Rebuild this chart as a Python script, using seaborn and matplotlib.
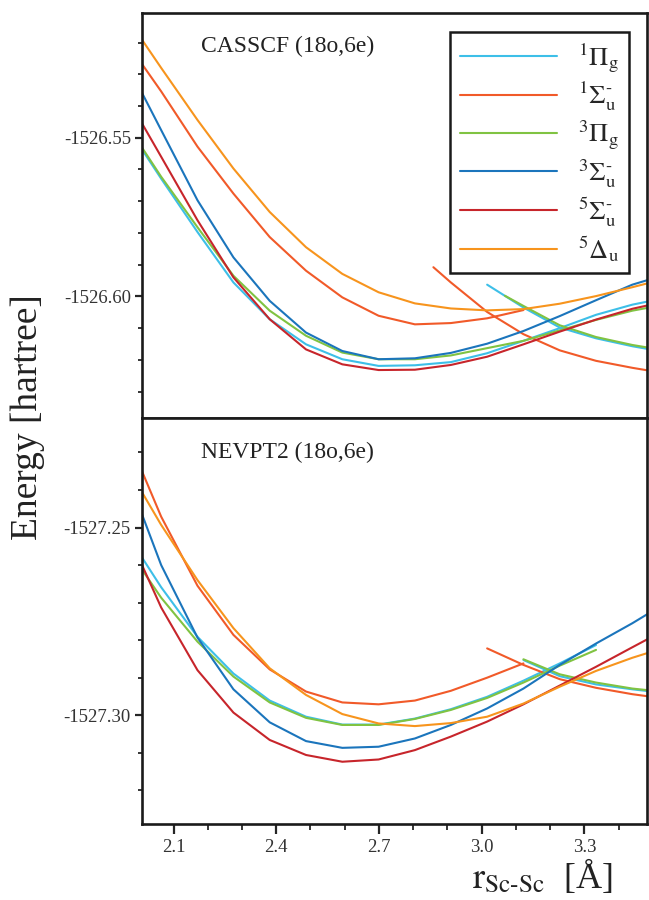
import matplotlib
matplotlib.use("Agg")
import matplotlib.pyplot as plt
import pandas as pd
import seaborn as sns
from matplotlib.ticker import MultipleLocator, FormatStrFormatter
from matplotlib.lines import Line2D

# ---------------- data ----------------
r_grid = [1.958, 2.064, 2.170, 2.275, 2.381, 2.487, 2.593, 2.699,
          2.805, 2.910, 3.016, 3.122, 3.228, 3.334, 3.440, 3.545]

state_keys = ["1Pg", "1Su", "3Pg", "3Su", "5Su", "5Du"]
state_labels = [r"$^{1}\Pi_{\mathrm{g}}$", r"$^{1}\Sigma_{\mathrm{u}}^{\text{-}}$",
                r"$^{3}\Pi_{\mathrm{g}}$", r"$^{3}\Sigma_{\mathrm{u}}^{\text{-}}$",
                r"$^{5}\Sigma_{\mathrm{u}}^{\text{-}}$", r"$^{5}\Delta_{\mathrm{u}}$"]
state_colors = ["#3dbfe8", "#f15a29", "#80c342", "#1b75bc", "#c7252b", "#f7941d"]

# CASSCF (18o,6e)
cas_1Pg = [-1526.5455, -1526.5629, -1526.5797, -1526.5956, -1526.6072, -1526.6151,
           -1526.6198, -1526.6219, -1526.6217, -1526.6207, -1526.6179, -1526.6140,
           -1526.6100, -1526.6058, -1526.6026, -1526.6003]
cas_1Pg_b_r = [3.016, 3.122, 3.228, 3.334, 3.440, 3.545]
cas_1Pg_b = [-1526.5963, -1526.6035, -1526.6098, -1526.6132, -1526.6157, -1526.6177]
cas_1Su = [-1526.5191, -1526.5354, -1526.5528, -1526.5676, -1526.5813, -1526.5919,
           -1526.6003, -1526.6061, -1526.6088, -1526.6084, -1526.6069, -1526.6043]
cas_1Su_b_r = [2.859, 2.910, 3.016, 3.122, 3.228, 3.334, 3.440, 3.545]
cas_1Su_b = [-1526.5908, -1526.5956, -1526.6049, -1526.6119, -1526.6170, -1526.6203,
             -1526.6225, -1526.6244]
cas_3Pg = [-1526.5449, -1526.5623, -1526.5782, -1526.5935, -1526.6045, -1526.6124,
           -1526.6177, -1526.6198, -1526.6198, -1526.6186, -1526.6163, -1526.6140,
           -1526.6107, -1526.6074, -1526.6045, -1526.6024]
cas_3Pg_b_r = [3.068, 3.122, 3.228, 3.334, 3.440, 3.545]
cas_3Pg_b = [-1526.5998, -1526.6030, -1526.6091, -1526.6128, -1526.6153, -1526.6172]
cas_3Su = [-1526.5254, -1526.5476, -1526.5697, -1526.5877, -1526.6014, -1526.6114,
           -1526.6172, -1526.6198, -1526.6195, -1526.6178, -1526.6149, -1526.6109,
           -1526.6062, -1526.6012, -1526.5963, -1526.5929]
cas_5Su = [-1526.5361, -1526.5560, -1526.5760, -1526.5940, -1526.6072, -1526.6167,
           -1526.6214, -1526.6232, -1526.6231, -1526.6216, -1526.6190, -1526.6151,
           -1526.6111, -1526.6073, -1526.6039, -1526.6014]
cas_5Du = [-1526.5112, -1526.5280, -1526.5444, -1526.5597, -1526.5734, -1526.5845,
           -1526.5929, -1526.5987, -1526.6022, -1526.6038, -1526.6044, -1526.6040,
           -1526.6023, -1526.5999, -1526.5971, -1526.5942]

# NEVPT2 (18o,6e)
nev_1Pg = [-1527.2509, -1527.2659, -1527.2791, -1527.2889, -1527.2961, -1527.3004,
           -1527.3025, -1527.3025, -1527.3009, -1527.2984, -1527.2951, -1527.2908,
           -1527.2862, -1527.2813]
nev_1Pg_b_r = [3.122, 3.228, 3.334, 3.440, 3.545]
nev_1Pg_b = [-1527.2853, -1527.2896, -1527.2918, -1527.2931, -1527.2942]
nev_1Su = [-1527.2242, -1527.2471, -1527.2655, -1527.2786, -1527.2878, -1527.2937,
           -1527.2966, -1527.2971, -1527.2961, -1527.2935, -1527.2900, -1527.2862]
nev_1Su_b_r = [3.016, 3.122, 3.228, 3.334, 3.440, 3.545]
nev_1Su_b = [-1527.2822, -1527.2866, -1527.2904, -1527.2927, -1527.2944, -1527.2957]
nev_3Pg = [-1527.2545, -1527.2687, -1527.2804, -1527.2897, -1527.2966, -1527.3007,
           -1527.3026, -1527.3026, -1527.3010, -1527.2986, -1527.2954, -1527.2913,
           -1527.2868, -1527.2826]
nev_3Pg_b_r = [3.122, 3.228, 3.334, 3.440, 3.545]
nev_3Pg_b = [-1527.2851, -1527.2891, -1527.2913, -1527.2929, -1527.2939]
nev_3Su = [-1527.2344, -1527.2600, -1527.2793, -1527.2931, -1527.3019, -1527.3069,
           -1527.3087, -1527.3084, -1527.3062, -1527.3026, -1527.2982, -1527.2929,
           -1527.2866, -1527.2809, -1527.2755, -1527.2697]
nev_5Su = [-1527.2499, -1527.2713, -1527.2880, -1527.2993, -1527.3066, -1527.3106,
           -1527.3124, -1527.3118, -1527.3093, -1527.3057, -1527.3017, -1527.2971,
           -1527.2921, -1527.2871, -1527.2819, -1527.2768]
nev_5Du = [-1527.2328, -1527.2493, -1527.2640, -1527.2768, -1527.2875, -1527.2946,
           -1527.2997, -1527.3022, -1527.3029, -1527.3021, -1527.3004, -1527.2969,
           -1527.2924, -1527.2882, -1527.2847, -1527.2817]


def segments(specs):
    rows = []
    for seg_id, (state, rs, es) in enumerate(specs):
        for r, e in zip(rs, es):
            rows.append({"r": r, "E": e, "state": state, "seg": seg_id})
    return pd.DataFrame(rows)


cas_df = segments([
    ("1Pg", r_grid, cas_1Pg), ("1Pg", cas_1Pg_b_r, cas_1Pg_b),
    ("1Su", r_grid[:len(cas_1Su)], cas_1Su), ("1Su", cas_1Su_b_r, cas_1Su_b),
    ("3Pg", r_grid, cas_3Pg), ("3Pg", cas_3Pg_b_r, cas_3Pg_b),
    ("3Su", r_grid, cas_3Su), ("5Su", r_grid, cas_5Su), ("5Du", r_grid, cas_5Du),
])
nev_df = segments([
    ("1Pg", r_grid[:len(nev_1Pg)], nev_1Pg), ("1Pg", nev_1Pg_b_r, nev_1Pg_b),
    ("1Su", r_grid[:len(nev_1Su)], nev_1Su), ("1Su", nev_1Su_b_r, nev_1Su_b),
    ("3Pg", r_grid[:len(nev_3Pg)], nev_3Pg), ("3Pg", nev_3Pg_b_r, nev_3Pg_b),
    ("3Su", r_grid, nev_3Su), ("5Su", r_grid, nev_5Su), ("5Du", r_grid, nev_5Du),
])

# ---------------- style ----------------
sns.set_style("ticks")
plt.rcParams["font.family"] = ["Liberation Serif", "DejaVu Serif"]
plt.rcParams["mathtext.fontset"] = "stix"
plt.rcParams["axes.linewidth"] = 1.9

palette = dict(zip(state_keys, state_colors))

fig = plt.figure(figsize=(6.49, 9.0), dpi=100)
ax_top = fig.add_axes([0.2188, 0.5356, 0.7782, 0.4496])
ax_bot = fig.add_axes([0.2188, 0.0844, 0.7782, 0.4512], sharex=ax_top)

for ax, df in ((ax_top, cas_df), (ax_bot, nev_df)):
    sns.lineplot(data=df, x="r", y="E", hue="state", units="seg", estimator=None,
                 palette=palette, sort=False, legend=False, linewidth=1.5, ax=ax)
    ax.set_xlabel("")
    ax.set_ylabel("")
    ax.yaxis.set_major_locator(MultipleLocator(0.05))
    ax.yaxis.set_minor_locator(MultipleLocator(0.01))
    ax.yaxis.set_major_formatter(FormatStrFormatter("%.2f"))
    ax.tick_params(axis="y", which="major", direction="out", length=5, width=1.6,
                   labelsize=13.5, pad=3, right=False, labelcolor="#333333")
    ax.tick_params(axis="y", which="minor", direction="out", length=3, width=1.3,
                   right=False)
    for sp in ax.spines.values():
        sp.set_visible(True)
        sp.set_color("#1a1a1a")

ax_top.set_xlim(2.008, 3.483)
ax_top.set_ylim(-1526.6383, -1526.5108)
ax_bot.set_ylim(-1527.329, -1527.2208)

ax_bot.xaxis.set_major_locator(MultipleLocator(0.3))
ax_bot.xaxis.set_minor_locator(MultipleLocator(0.1))
ax_bot.xaxis.set_major_formatter(FormatStrFormatter("%.1f"))
ax_bot.tick_params(axis="x", which="major", direction="out", length=7, width=1.6,
                   labelsize=13.5, pad=4, top=False, labelcolor="#333333")
ax_bot.tick_params(axis="x", which="minor", direction="out", length=4, width=1.3,
                   top=False)
ax_top.tick_params(axis="x", which="both", bottom=False, top=False,
                   labelbottom=False)

ax_top.text(0.117, 0.905, "CASSCF (18o,6e)", transform=ax_top.transAxes,
            fontsize=17, va="baseline", ha="left", color="#222222")
ax_bot.text(0.117, 0.901, "NEVPT2 (18o,6e)", transform=ax_bot.transAxes,
            fontsize=17, va="baseline", ha="left", color="#222222")

handles = [Line2D([], [], color=c, lw=1.5) for c in state_colors]
leg = ax_top.legend(handles, state_labels, loc="upper right",
                    bbox_to_anchor=(0.964, 0.954), borderaxespad=0.0,
                    fontsize=19, frameon=True, fancybox=False,
                    handlelength=3.7, handletextpad=0.8, labelspacing=0.2,
                    borderpad=0.35)
leg.get_frame().set_edgecolor("#1a1a1a")
leg.get_frame().set_linewidth(1.8)
leg.get_frame().set_alpha(1.0)

fig.text(0.043, 0.536, "Energy [hartree]", rotation=90, fontsize=27,
         ha="center", va="center", color="#222222")
fig.text(0.835, 0.013, r"$\mathrm{r}_{\mathrm{Sc\text{-}Sc}}$  [Å]", fontsize=26,
         ha="center", va="baseline", color="#222222")

fig.savefig("out.png", dpi=100)
